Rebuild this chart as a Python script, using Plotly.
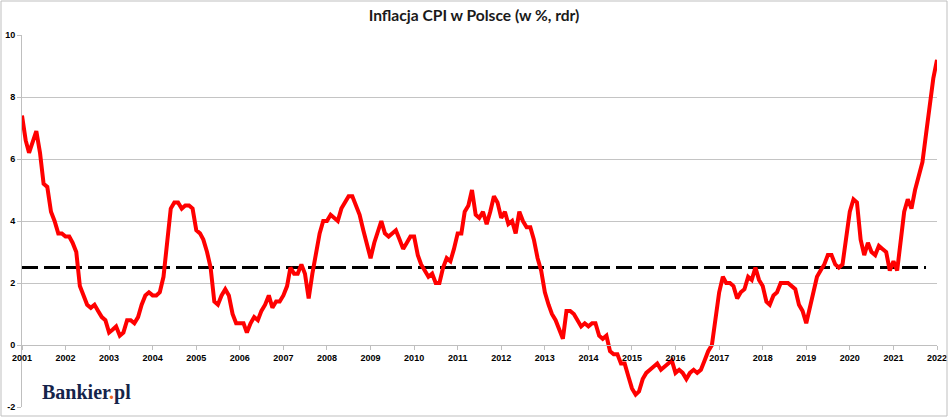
import pandas as pd
import plotly.graph_objects as go

# Inflacja CPI r/r, dane miesieczne (styczen 2001 - styczen 2022)
cpi_2001 = [7.4, 6.6, 6.2, 6.6, 6.9, 6.2, 5.2, 5.1, 4.3, 4.0, 3.6, 3.6]
cpi_2002 = [3.5, 3.5, 3.3, 3.0, 1.9, 1.6, 1.3, 1.2, 1.3, 1.1, 0.9, 0.8]
cpi_2003 = [0.4, 0.5, 0.6, 0.3, 0.4, 0.8, 0.8, 0.7, 0.9, 1.3, 1.6, 1.7]
cpi_2004 = [1.6, 1.6, 1.7, 2.2, 3.4, 4.4, 4.6, 4.6, 4.4, 4.5, 4.5, 4.4]
cpi_2005 = [3.7, 3.6, 3.4, 3.0, 2.5, 1.4, 1.3, 1.6, 1.8, 1.6, 1.0, 0.7]
cpi_2006 = [0.7, 0.7, 0.4, 0.7, 0.9, 0.8, 1.1, 1.3, 1.6, 1.2, 1.4, 1.4]
cpi_2007 = [1.6, 1.9, 2.5, 2.3, 2.3, 2.6, 2.3, 1.5, 2.3, 3.0, 3.6, 4.0]
cpi_2008 = [4.0, 4.2, 4.1, 4.0, 4.4, 4.6, 4.8, 4.8, 4.5, 4.2, 3.7, 3.3]
cpi_2009 = [2.8, 3.3, 3.6, 4.0, 3.6, 3.5, 3.6, 3.7, 3.4, 3.1, 3.3, 3.5]
cpi_2010 = [3.5, 2.9, 2.6, 2.4, 2.2, 2.3, 2.0, 2.0, 2.5, 2.8, 2.7, 3.1]
cpi_2011 = [3.6, 3.6, 4.3, 4.5, 5.0, 4.2, 4.1, 4.3, 3.9, 4.3, 4.8, 4.6]
cpi_2012 = [4.1, 4.3, 3.9, 4.0, 3.6, 4.3, 4.0, 3.8, 3.8, 3.4, 2.8, 2.4]
cpi_2013 = [1.7, 1.3, 1.0, 0.8, 0.5, 0.2, 1.1, 1.1, 1.0, 0.8, 0.6, 0.7]
cpi_2014 = [0.6, 0.7, 0.7, 0.3, 0.2, 0.3, -0.2, -0.3, -0.3, -0.6, -0.6, -1.0]
cpi_2015 = [-1.4, -1.6, -1.5, -1.1, -0.9, -0.8, -0.7, -0.6, -0.8, -0.7, -0.6, -0.5]
cpi_2016 = [-0.9, -0.8, -0.9, -1.1, -0.9, -0.8, -0.9, -0.8, -0.5, -0.2, 0.0, 0.8]
cpi_2017 = [1.7, 2.2, 2.0, 2.0, 1.9, 1.5, 1.7, 1.8, 2.2, 2.1, 2.5, 2.1]
cpi_2018 = [1.9, 1.4, 1.3, 1.6, 1.7, 2.0, 2.0, 2.0, 1.9, 1.8, 1.3, 1.1]
cpi_2019 = [0.7, 1.2, 1.7, 2.2, 2.4, 2.6, 2.9, 2.9, 2.6, 2.5, 2.6, 3.4]
cpi_2020 = [4.3, 4.7, 4.6, 3.4, 2.9, 3.3, 3.0, 2.9, 3.2, 3.1, 3.0, 2.4]
cpi_2021 = [2.7, 2.4, 3.2, 4.3, 4.7, 4.4, 5.0, 5.5, 5.9, 6.8, 7.7, 8.6]
cpi_2022 = [9.2]

cel_inflacyjny = 2.5
cel_od, cel_do = "2001-01-01", "2021-10-01"

lata = [str(r) for r in range(2001, 2023)]
skala_y = [-2, 0, 2, 4, 6, 8, 10]
skala_y_opisy = ["-2", "0", "2", "4", "6", "8", "10"]

cpi = (cpi_2001 + cpi_2002 + cpi_2003 + cpi_2004 + cpi_2005 + cpi_2006 + cpi_2007
       + cpi_2008 + cpi_2009 + cpi_2010 + cpi_2011 + cpi_2012 + cpi_2013 + cpi_2014
       + cpi_2015 + cpi_2016 + cpi_2017 + cpi_2018 + cpi_2019 + cpi_2020 + cpi_2021
       + cpi_2022)
miesiace = pd.date_range("2001-01-01", periods=len(cpi), freq="MS")
miesiace_cel = pd.date_range(cel_od, cel_do, freq="MS")

W, H = 948, 417
L, R, T, B = 22, 11, 35, 10
pw, ph = W - L - R, H - T - B


def px_x(x):
    return (x - L) / pw


def px_y(y):
    return (H - B - y) / ph


fig = go.Figure()
fig.add_trace(go.Scatter(x=miesiace_cel, y=[cel_inflacyjny] * len(miesiace_cel), mode="lines",
                         line=dict(color="black", width=3, dash="16px,6px"), hoverinfo="skip"))
fig.add_trace(go.Scatter(x=miesiace, y=cpi, mode="lines",
                         line=dict(color="#ff0000", width=4)))

fig.update_layout(
    width=W, height=H,
    margin=dict(l=L, r=R, t=T, b=B, autoexpand=False),
    paper_bgcolor="white", plot_bgcolor="white",
    showlegend=False,
    title=dict(text="<b>Inflacja CPI w Polsce (w %, rdr)</b>", x=0.5, xanchor="center",
               y=1 - 16 / H, yanchor="middle", automargin=False,
               font=dict(family="Lato", size=15.6, color="#1a1a1a")),
    xaxis=dict(
        type="date", range=["2001-01-01", "2022-01-01"],
        tickvals=[f"{r}-01-01" for r in lata], ticktext=lata,
        anchor="free", position=2 / 12, automargin=False,
        showgrid=False, zeroline=False,
        showline=True, linecolor="#bfbfbf", linewidth=1,
        ticks="outside", ticklen=4, tickcolor="#bfbfbf",
        tickfont=dict(family="Liberation Sans", size=9, color="black", weight="bold"),
    ),
    yaxis=dict(
        range=[-2, 10], tickvals=skala_y, ticktext=skala_y_opisy, automargin=False,
        showgrid=True, gridcolor="#c4c4c4", gridwidth=1,
        zeroline=False,
        showline=True, linecolor="#bfbfbf", linewidth=1,
        ticks="outside", ticklen=4, tickcolor="#bfbfbf",
        tickfont=dict(family="Liberation Sans", size=9, color="black", weight="bold"),
    ),
)

# ramka wykresu
fig.add_shape(type="rect", xref="paper", yref="paper",
              x0=px_x(1), x1=px_x(W - 1), y0=px_y(H - 1), y1=px_y(1),
              line=dict(color="#bfbfbf", width=1), fillcolor="rgba(0,0,0,0)")
# logo
fig.add_shape(type="rect", xref="paper", yref="paper", layer="above",
              x0=px_x(23), x1=px_x(148), y0=px_y(414), y1=px_y(372),
              line=dict(width=0), fillcolor="white")
fig.add_annotation(xref="paper", yref="paper", x=px_x(86), y=px_y(392),
                   xanchor="center", yanchor="middle",
                   text='Bankier<span style="color:#f26522">.</span>pl', showarrow=False,
                   font=dict(family="Liberation Serif", size=20, color="#15244a", weight="bold"))

fig.write_html("out.html", config={"displayModeBar": False},
               post_script="document.body.style.margin='0';")
